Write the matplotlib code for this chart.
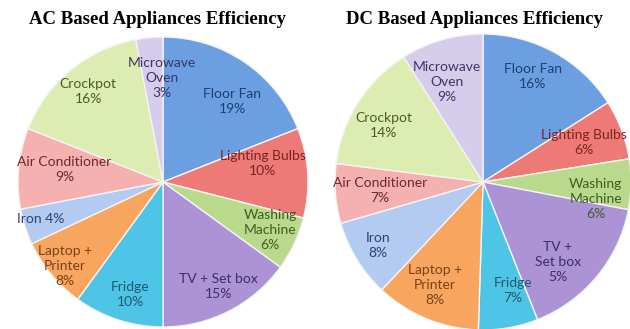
import numpy as np
import matplotlib
matplotlib.use("Agg")
import matplotlib.pyplot as plt

# ---------------- data ----------------
categories = ["Floor Fan", "Lighting Bulbs", "Washing Machine", "TV + Set box",
              "Fridge", "Laptop + Printer", "Iron", "Air Conditioner",
              "Crockpot", "Microwave Oven"]

ac_values = [19, 10, 6, 15, 10, 8, 4, 9, 16, 3]
ac_labels = ["Floor Fan\n19%", "Lighting Bulbs\n10%", "Washing\nMachine\n6%",
             "TV + Set box\n15%", "Fridge\n10%", "Laptop +\nPrinter\n8%",
             "Iron 4%", "Air Conditioner\n9%", "Crockpot\n16%",
             "Microwave\nOven\n3%"]

# slice sizes as drawn in the picture (labels as printed)
dc_values = [16, 6.5, 5.5, 16, 6.5, 11.5, 8.5, 6.5, 14, 9]
dc_labels = ["Floor Fan\n16%", "Lighting Bulbs\n6%", "Washing\nMachine\n6%",
             "TV +\nSet box\n5%", "Fridge\n7%", "Laptop +\nPrinter\n8%",
             "Iron\n8%", "Air Conditioner\n7%", "Crockpot\n14%",
             "Microwave\nOven\n9%"]

titles = ["AC Based Appliances Efficiency", "DC Based Appliances Efficiency"]

# ---------------- style ----------------
colors = ["#6b9fe2", "#ee7a78", "#b9da8c", "#ab93d6", "#4ec5e7",
          "#f8a560", "#b3cbf1", "#f5b1b0", "#ddedb2", "#d6cceb"]
text_colors = ["#1f3f72", "#7a2422", "#3f5d1f", "#3f2f62", "#1b5b6d",
               "#7a4216", "#2a4470", "#6e2a2a", "#4a5a22", "#3f3464"]

ac_r = [0.73, 0.70, 0.81, 0.82, 0.81, 0.89, 0.88, 0.685, 0.81, 0.72]
ac_da = [-6.6, 7.0, 1, 1, 1.7, 1, -1.3, -1.7, 0, -5]
dc_r = [0.79, 0.73, 0.77, 0.74, 0.76, 0.77, 0.83, 0.70, 0.77, 0.72]
dc_da = [3.7, 0.9, -7.5, -7.2, 5.6, -2.5, -0.5, 0, 2.9, 3.8]

W, H = 630, 329
fig = plt.figure(figsize=(W / 100, H / 100), dpi=100)
fig.patch.set_facecolor("white")

specs = [
    dict(cx=163, cy=182, R=145, values=ac_values, labels=ac_labels,
         rr=ac_r, da=ac_da, tx=157),
    dict(cx=483, cy=182, R=148, values=dc_values, labels=dc_labels,
         rr=dc_r, da=dc_da, tx=474),
]

for i, s in enumerate(specs):
    left = (s["cx"] - s["R"]) / W
    bottom = (H - s["cy"] - s["R"]) / H
    ax = fig.add_axes([left, bottom, 2 * s["R"] / W, 2 * s["R"] / H])
    wedges, _ = ax.pie(s["values"], colors=colors, startangle=90,
                       counterclock=False, radius=1.0,
                       wedgeprops=dict(edgecolor="#f4f4f4", linewidth=1.0))
    for w in wedges:
        w.set_clip_on(False)
    ax.set_xlim(-1, 1)
    ax.set_ylim(-1, 1)
    ax.axis("off")
    for k, w in enumerate(wedges):
        mid = np.deg2rad((w.theta1 + w.theta2) / 2 + s["da"][k])
        r = s["rr"][k]
        ax.text(r * np.cos(mid), r * np.sin(mid), s["labels"][k],
                ha="center", va="center", fontsize=10, family="Lato",
                color=text_colors[k], linespacing=1.3, clip_on=False)
    fig.text(s["tx"] / W, 1 - 20 / H, titles[i], ha="center", va="center",
             fontsize=13.5, fontweight="bold", family="Liberation Serif",
             color="black")

fig.savefig("out.png", dpi=100, facecolor="white")
